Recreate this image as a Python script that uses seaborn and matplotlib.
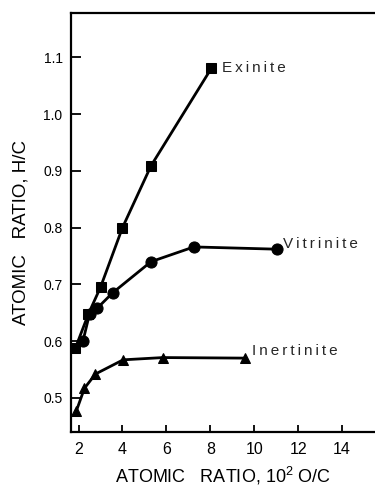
import matplotlib
matplotlib.use("Agg")
import matplotlib.pyplot as plt
import seaborn as sns
import pandas as pd

# Data
exinite_x = [1.85, 2.45, 3.0, 4.0, 5.3, 8.05]
exinite_y = [0.587, 0.648, 0.695, 0.800, 0.909, 1.081]

vitrinite_x = [2.2, 2.5, 2.85, 3.55, 5.3, 7.25, 11.05]
vitrinite_y = [0.600, 0.648, 0.658, 0.685, 0.740, 0.766, 0.762]

inertinite_x = [1.9, 2.27, 2.77, 4.03, 5.85, 9.6]
inertinite_y = [0.477, 0.517, 0.542, 0.567, 0.571, 0.570]

series_names = ["Exinite", "Vitrinite", "Inertinite"]
x_ticks = [2, 4, 6, 8, 10, 12, 14]
y_ticks = [0.5, 0.6, 0.7, 0.8, 0.9, 1.0, 1.1]

sns.set_theme(style="white")
plt.rcParams['font.family'] = ['Liberation Sans', 'DejaVu Sans']
plt.rcParams['mathtext.fontset'] = 'custom'
plt.rcParams['mathtext.rm'] = 'Liberation Sans'
plt.rcParams['mathtext.it'] = 'Liberation Sans'
plt.rcParams['mathtext.bf'] = 'Liberation Sans'


def track(s, sp="\u2009"):
    return sp.join(s)


fig = plt.figure(figsize=(3.75, 4.88), dpi=100)
ax = fig.add_axes([0.189, 0.115, 0.811, 0.858])

specs = [
    (exinite_x, exinite_y, "s", 6.5),
    (vitrinite_x, vitrinite_y, "o", 8),
    (inertinite_x, inertinite_y, "^", 6.5),
]
for (xs, ys, mk, ms), name in zip(specs, series_names):
    df = pd.DataFrame({"x": xs, "y": ys})
    sns.lineplot(data=df, x="x", y="y", ax=ax, color="black", lw=2.0,
                 marker=mk, markersize=ms, markeredgecolor="black",
                 markerfacecolor="black", sort=False, estimator=None)

ax.set_xlim(1.65, 15.5)
ax.set_ylim(0.44, 1.178)
ax.set_xticks(x_ticks)
ax.set_xticklabels([str(t) for t in x_ticks])
ax.set_yticks(y_ticks)
ax.set_yticklabels([f"{t:.1f}" for t in y_ticks])

for s in ["left", "bottom", "top"]:
    ax.spines[s].set_visible(True)
    ax.spines[s].set_color("black")
    ax.spines[s].set_linewidth(1.6)
ax.spines["right"].set_visible(False)

ax.tick_params(axis="both", direction="in", colors="black",
               width=1.3, top=False, right=False)
ax.tick_params(axis="y", length=7, pad=6, left=True, labelsize=10)
ax.tick_params(axis="x", length=5, pad=7, bottom=True, labelsize=11.5)

ax.set_xlabel("ATOMIC   RATIO, 10$^{2}$ O/C", fontsize=13, labelpad=6,
              color="black")
ax.set_ylabel("ATOMIC   RATIO, H/C", fontsize=13.5, color="black")
ax.yaxis.set_label_coords(-0.135, 0.477)

ax.text(8.55, 1.081, track("Exinite"), fontsize=11, va="center", ha="left")
ax.text(11.3, 0.772, track("Vitrinite"), fontsize=11, va="center", ha="left")
ax.text(9.9, 0.582, track("Inertinite"), fontsize=11, va="center", ha="left")

ax.grid(False)
fig.savefig("out.png", dpi=100)
